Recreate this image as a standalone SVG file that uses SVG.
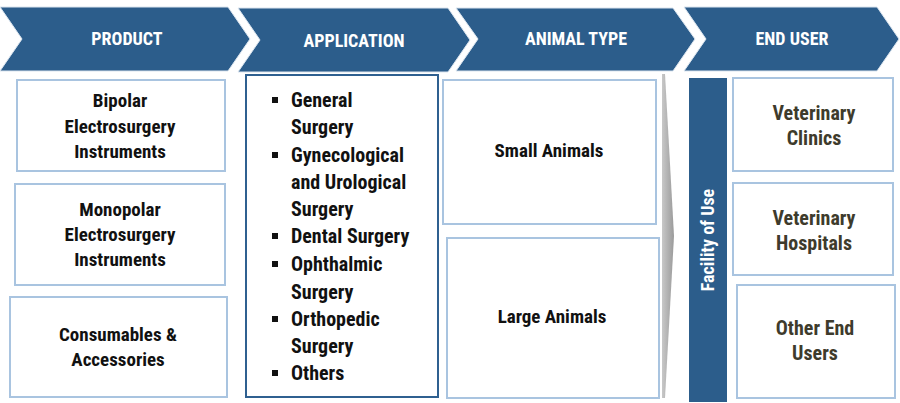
<svg xmlns="http://www.w3.org/2000/svg" width="900" height="403" viewBox="0 0 900 403">
<style>
.chev{fill:#2C5D8B;stroke:#dbe5ef;stroke-width:1}
.hd{font-family:"Liberation Sans Narrow","Roboto Condensed","DejaVu Sans Condensed",sans-serif;font-weight:bold;font-size:18px;fill:#ffffff;text-anchor:middle}
.box{fill:#ffffff;stroke:#a9c4e0;stroke-width:2}
.abox{fill:#ffffff;stroke:#2f6090;stroke-width:2}
.t{font-family:"Liberation Sans Narrow","Roboto Condensed","DejaVu Sans Condensed",sans-serif;font-weight:bold;font-size:19px;fill:#111111;text-anchor:middle}
.tl{font-family:"Liberation Sans Narrow","Roboto Condensed","DejaVu Sans Condensed",sans-serif;font-weight:bold;font-size:20px;fill:#111111}
.eu{font-family:"Liberation Sans Narrow","Roboto Condensed","DejaVu Sans Condensed",sans-serif;font-weight:bold;font-size:20px;fill:#3e3b2c;text-anchor:middle}
.bul{fill:#111111}
</style>
<defs>
<linearGradient id="gray" x1="0" y1="0" x2="1" y2="0">
<stop offset="0" stop-color="#c8c8c8"/>
<stop offset="1" stop-color="#9a9a9a"/>
</linearGradient>
</defs>
<g id="headers">
<g id="h-product"><polygon class="chev" points="0,7 228,7 250,39 228,71 0,71 22,39"/><text class="hd" x="127" y="45">PRODUCT</text></g>
<g id="h-application"><polygon class="chev" points="238,8 448,8 470,40 448,72 238,72 260,40"/><text class="hd" x="354" y="47">APPLICATION</text></g>
<g id="h-animal"><polygon class="chev" points="456,8 673,8 695,39 673,71 456,71 478,39"/><text class="hd" x="576" y="45">ANIMAL TYPE</text></g>
<g id="h-enduser"><polygon class="chev" points="684,7 877,7 899,39 877,71 684,71 706,39"/><text class="hd" x="792" y="45">END USER</text></g>
</g>
<g id="product">
<g id="p1"><rect class="box" x="17" y="80" width="208" height="91"/>
<text class="t" x="120" y="107">Bipolar</text><text class="t" x="120" y="133">Electrosurgery</text><text class="t" x="120" y="158">Instruments</text></g>
<g id="p2"><rect class="box" x="15" y="184" width="210" height="101"/>
<text class="t" x="120" y="216">Monopolar</text><text class="t" x="120" y="241">Electrosurgery</text><text class="t" x="120" y="266">Instruments</text></g>
<g id="p3"><rect class="box" x="10" y="297" width="217" height="100"/>
<text class="t" x="118" y="341">Consumables &amp;</text><text class="t" x="118" y="366">Accessories</text></g>
</g>
<g id="application">
<rect class="abox" x="246" y="75" width="192" height="322"/>
<rect class="bul" x="272" y="97" width="6" height="6"/><text class="tl" x="291" y="107">General</text>
<text class="tl" x="291" y="134">Surgery</text>
<rect class="bul" x="272" y="152" width="6" height="6"/><text class="tl" x="291" y="162">Gynecological</text>
<text class="tl" x="291" y="189">and Urological</text>
<text class="tl" x="291" y="216">Surgery</text>
<rect class="bul" x="272" y="233" width="6" height="6"/><text class="tl" x="291" y="243">Dental Surgery</text>
<rect class="bul" x="272" y="261" width="6" height="6"/><text class="tl" x="291" y="271">Ophthalmic</text>
<text class="tl" x="291" y="299">Surgery</text>
<rect class="bul" x="272" y="316" width="6" height="6"/><text class="tl" x="291" y="326">Orthopedic</text>
<text class="tl" x="291" y="353">Surgery</text>
<rect class="bul" x="272" y="370" width="6" height="6"/><text class="tl" x="291" y="380">Others</text>
</g>
<g id="animal">
<g id="a1"><rect class="box" x="443" y="80" width="213" height="144"/><text class="t" x="549" y="157">Small Animals</text></g>
<g id="a2"><rect class="box" x="447" y="238" width="212" height="160"/><text class="t" x="552" y="323">Large Animals</text></g>
</g>
<g id="connectors">
<polygon points="662,74 665,74 674,236 665,398 662,398" fill="url(#gray)"/>
</g>
<g id="facility">
<rect x="689" y="78" width="38" height="324" fill="#2C5D8B"/>
<text class="hd" transform="translate(714,240) rotate(-90)" x="0" y="0">Facility of Use</text>
</g>
<g id="enduser">
<g id="e1"><rect class="box" x="733" y="78" width="160" height="93"/><text class="eu" x="814" y="120">Veterinary</text><text class="eu" x="814" y="145">Clinics</text></g>
<g id="e2"><rect class="box" x="733" y="183" width="160" height="92"/><text class="eu" x="814" y="225">Veterinary</text><text class="eu" x="814" y="250">Hospitals</text></g>
<g id="e3"><rect class="box" x="737" y="285" width="158" height="113"/><text class="eu" x="815" y="335">Other End</text><text class="eu" x="815" y="360">Users</text></g>
</g>
</svg>
